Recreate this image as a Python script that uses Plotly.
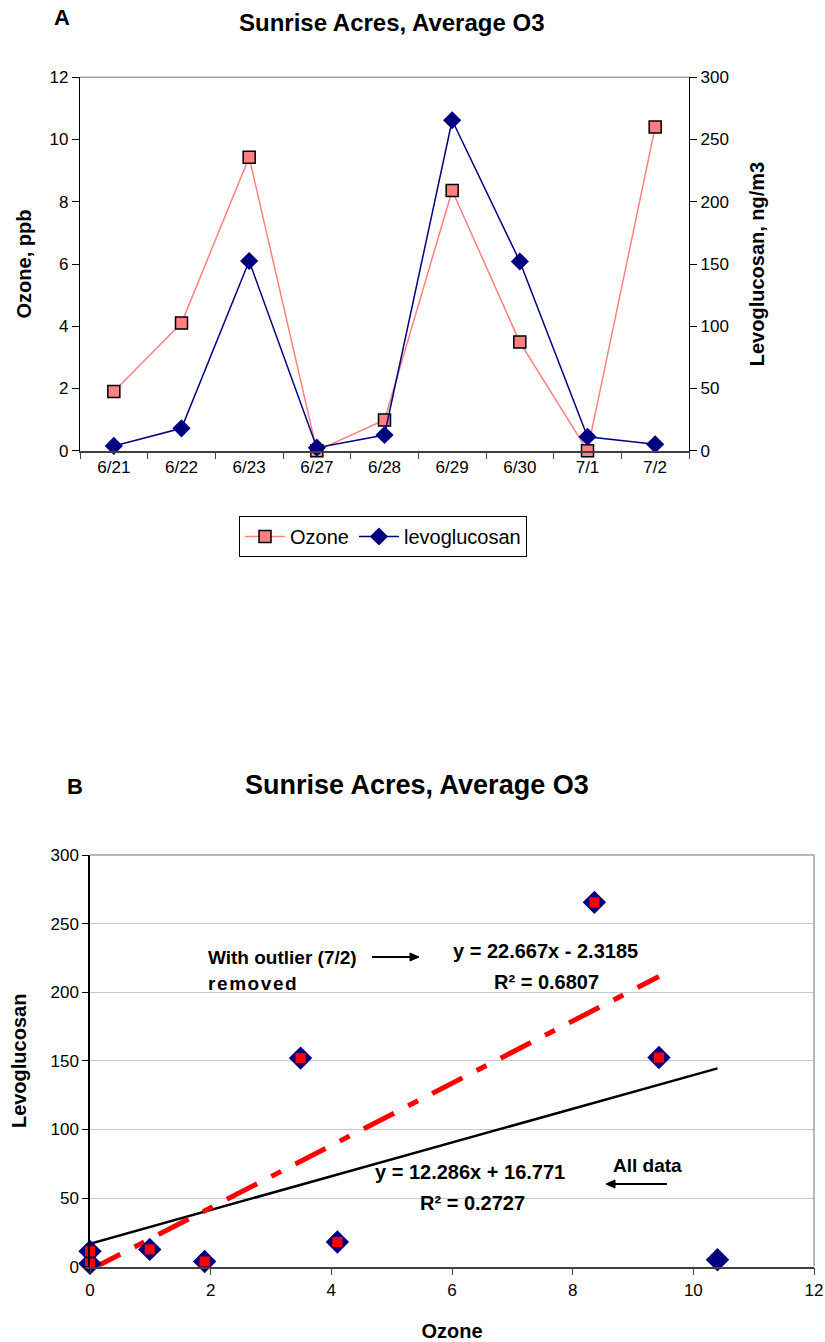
import plotly.graph_objects as go

# ---------------- data ----------------
dates = ["6/21", "6/22", "6/23", "6/27", "6/28", "6/29", "6/30", "7/1", "7/2"]
ozone = [1.9, 4.1, 9.43, 0.0, 0.99, 8.36, 3.49, 0.0, 10.4]
levoglucosan = [3.8, 18.0, 152.4, 2.4, 12.6, 265.5, 152.0, 11.2, 5.1]

# scatter without the 7/2 outlier
ozone_no_outlier = [1.9, 4.1, 9.43, 0.0, 0.99, 8.36, 3.49, 0.0]
levo_no_outlier = [3.8, 18.0, 152.4, 2.4, 12.6, 265.5, 152.0, 11.2]

# trendline coefficients (as printed on chart)
fit_all = (12.286, 16.771)
fit_removed = (22.667, -2.3185)

FONT = "Liberation Sans, Arial, sans-serif"
W, H = 825, 1342

def px(x):
    return x / W

def py(y):
    return 1 - y / H

fig = go.Figure()

# ---------------- Chart A ----------------
fig.add_trace(go.Scatter(
    x=dates, y=ozone, name="Ozone", mode="lines+markers",
    line=dict(color="#FF8080", width=1.5),
    marker=dict(symbol="square", size=12, color="#FF8080",
                line=dict(color="#000000", width=1.5)),
    cliponaxis=False, xaxis="x", yaxis="y"))
fig.add_trace(go.Scatter(
    x=dates, y=levoglucosan, name="levoglucosan", mode="lines+markers",
    line=dict(color="#000080", width=1.5),
    marker=dict(symbol="diamond", size=14, color="#000080"),
    cliponaxis=False, xaxis="x", yaxis="y2"))

# ---------------- Chart B ----------------
def line_pts(coef, xs):
    x0, x1 = 0.0, max(xs)
    return [x0, x1], [coef[0] * x0 + coef[1], coef[0] * x1 + coef[1]]

lx, ly = line_pts(fit_all, ozone)
fig.add_trace(go.Scatter(x=lx, y=ly, mode="lines", showlegend=False,
                         line=dict(color="black", width=2.5),
                         xaxis="x3", yaxis="y3"))
rx, ry = line_pts(fit_removed, ozone_no_outlier)
fig.add_trace(go.Scatter(x=rx, y=ry, mode="lines", showlegend=False,
                         line=dict(color="#FF0000", width=5,
                                   dash="34px,16px,11px,16px"),
                         xaxis="x3", yaxis="y3"))
fig.add_trace(go.Scatter(x=ozone, y=levoglucosan, mode="markers", showlegend=False,
                         marker=dict(symbol="diamond", size=18, color="#000080"),
                         cliponaxis=False, xaxis="x3", yaxis="y3"))
fig.add_trace(go.Scatter(x=ozone_no_outlier, y=levo_no_outlier, mode="markers",
                         showlegend=False,
                         marker=dict(symbol="square", size=10, color="#FF0000"),
                         cliponaxis=False, xaxis="x3", yaxis="y3"))

tickfont = dict(family=FONT, size=17, color="black")
boldfont = dict(family=FONT, size=20, color="black")

A_dom_x = [px(80), px(689)]
A_dom_y = [py(450.7), py(77.3)]
B_dom_x = [px(90), px(814)]
B_dom_y = [py(1266.7), py(855)]

fig.update_layout(
    width=W, height=H,
    margin=dict(l=0, r=0, t=0, b=0),
    paper_bgcolor="white", plot_bgcolor="white",
    font=dict(family=FONT, color="black"),
    xaxis=dict(domain=A_dom_x, anchor="y", type="category", automargin=False,
               tickson="boundaries", ticks="outside", ticklen=7,
               tickcolor="#404040", showline=True, linecolor="#404040",
               linewidth=1.5, showgrid=False, tickfont=tickfont,
               range=[-0.5, 8.5]),
    yaxis=dict(domain=A_dom_y, anchor="x", range=[0, 12], dtick=2, automargin=False,
               ticks="outside", ticklen=7, tickcolor="black",
               showline=True, linecolor="black", linewidth=1.2,
               showgrid=False, zeroline=False, tickfont=tickfont,
               title=dict(text="<b>Ozone, ppb</b>", font=boldfont, standoff=12)),
    yaxis2=dict(overlaying="y", side="right", anchor="x", range=[0, 300],
                automargin=False,
                dtick=50, ticks="outside", ticklen=7, tickcolor="black",
                showline=True, linecolor="black", linewidth=1.2,
                showgrid=False, zeroline=False, tickfont=tickfont,
                title=dict(text="<b>Levoglucosan, ng/m3</b>", font=boldfont,
                           standoff=22)),
    xaxis3=dict(domain=B_dom_x, anchor="y3", range=[0, 12], dtick=2,
                automargin=False,
                ticks="outside", ticklen=7, tickcolor="#404040",
                showline=True, linecolor="#404040", linewidth=1.5,
                showgrid=False, zeroline=False, tickfont=tickfont,
                title=dict(text="<b>Ozone</b>", font=boldfont, standoff=30)),
    yaxis3=dict(domain=B_dom_y, anchor="x3", range=[0, 300], dtick=50,
                automargin=False,
                ticks="outside", ticklen=6, tickcolor="black",
                showline=True, linecolor="black", linewidth=1.5,
                showgrid=True, gridcolor="#C8C8C8", gridwidth=1,
                zeroline=False, tickfont=tickfont,
                title=dict(text="<b>Levoglucosan</b>", font=boldfont, standoff=18)),
    legend=dict(orientation="h", x=px(383), xanchor="center",
                y=py(516), yanchor="top", bordercolor="black", borderwidth=1,
                bgcolor="white", font=dict(family=FONT, size=20, color="black"),
                itemwidth=40),
    showlegend=True,
)

# plot-area borders (top / right) drawn in grey
shapes = [
    dict(type="line", xref="paper", yref="paper", x0=A_dom_x[0], x1=A_dom_x[1],
         y0=A_dom_y[1], y1=A_dom_y[1], line=dict(color="#A0A0A0", width=1.5)),
    dict(type="line", xref="paper", yref="paper", x0=B_dom_x[0], x1=B_dom_x[1],
         y0=B_dom_y[1], y1=B_dom_y[1], line=dict(color="#A0A0A0", width=1.5)),
    dict(type="line", xref="paper", yref="paper", x0=B_dom_x[1], x1=B_dom_x[1],
         y0=B_dom_y[0], y1=B_dom_y[1], line=dict(color="#A0A0A0", width=1.5)),
]

def arrow(x_tail, x_head, y):
    d = 1 if x_head > x_tail else -1
    base = x_head - d * 9
    shapes.append(dict(type="line", xref="paper", yref="paper",
                       x0=px(x_tail), x1=px(base), y0=py(y), y1=py(y),
                       line=dict(color="black", width=1.8)))
    path = (f"M {px(x_head)},{py(y)} L {px(base)},{py(y - 4)} "
            f"L {px(base)},{py(y + 4)} Z")
    shapes.append(dict(type="path", xref="paper", yref="paper", path=path,
                       fillcolor="black", line=dict(color="black", width=1)))

arrow(372, 419, 957)
arrow(667, 606, 1184)
fig.update_layout(shapes=shapes)

ann = []
def text(x, y, s, size=18, xanchor="center", bold=True):
    ann.append(dict(xref="paper", yref="paper", x=px(x), y=py(y), text=(f"<b>{s}</b>" if bold else s),
                    showarrow=False, xanchor=xanchor, yanchor="middle",
                    font=dict(family=FONT, size=size, color="black")))

text(62, 18, "A", size=22)
text(391, 22, "Sunrise Acres, Average O3", size=24)
text(75, 786, "B", size=22)
text(417, 785, "Sunrise Acres, Average O3", size=27)

hair = "\u200a"
text(206, 957, "With outlier (7/2)", size=19, xanchor="left")
text(206, 983, hair.join("removed"), size=19, xanchor="left")
text(545, 951, "y = 22.667x - 2.3185", size=20)
text(546, 982, "R\u00b2 = 0.6807", size=20)
text(470, 1172, "y = 12.286x + 16.771", size=20)
text(472, 1203, "R\u00b2 = 0.2727", size=20)
text(647, 1165, "All data", size=19)

fig.update_layout(annotations=ann)

fig.write_html("out.html")
